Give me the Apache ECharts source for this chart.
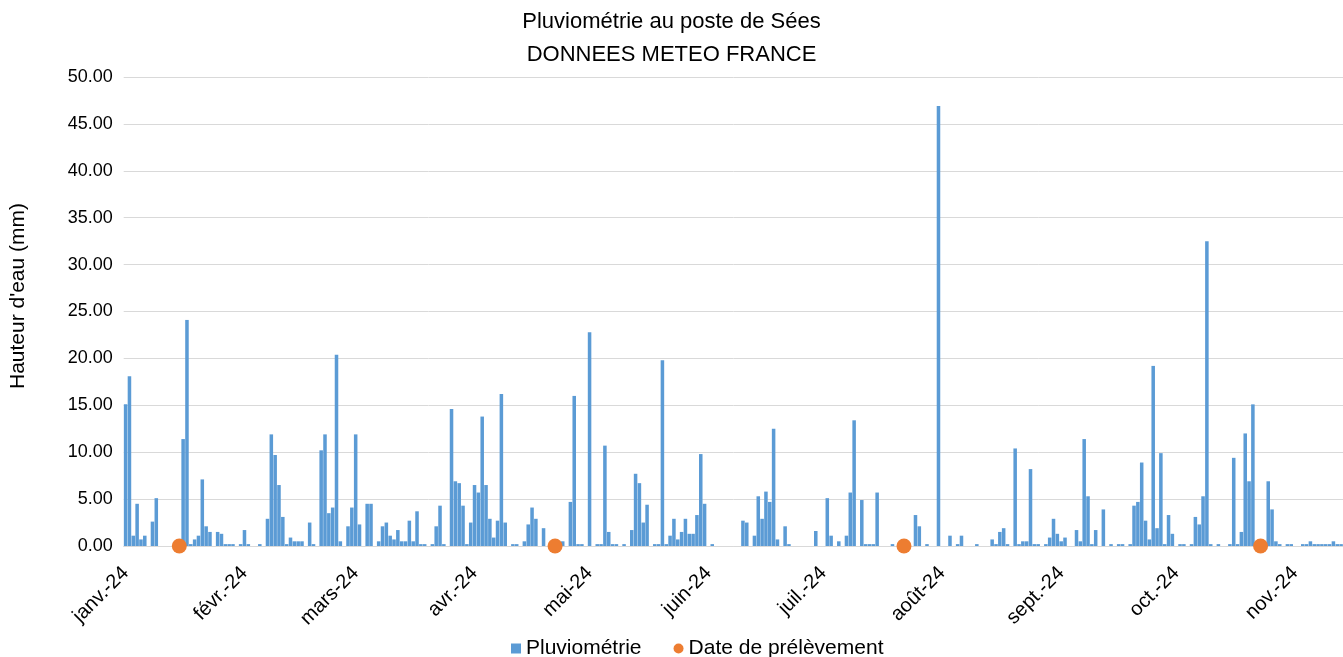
<!DOCTYPE html>
<html><head><meta charset="utf-8">
<script src="https://cdn.jsdelivr.net/npm/echarts@6/dist/echarts.min.js"></script>
<style>html,body{margin:0;padding:0;background:#fff}#c{width:1343px;height:657px}</style>
</head><body><div id="c"></div>
<script>
// Daily rainfall (mm), 2024
const rainJan = [15.1,18.1,1.1,4.5,0.7,1.1,0,2.6,5.1,0,0,0,0,0,0,11.4,24.1,0.2,0.7,1.1,7.1,2.1,1.5,0,1.5,1.3,0.2,0.2,0.2,0,0.2];
const rainFeb = [1.7,0.2,0,0,0.2,0,2.9,11.9,9.7,6.5,3.1,0.2,0.9,0.5,0.5,0.5,0,2.5,0.2,0,10.2,11.9,3.5,4.1,20.4,0.5,0,2.1,4.1];
const rainMar = [11.9,2.3,0,4.5,4.5,0,0.5,2.1,2.5,1.1,0.7,1.7,0.5,0.5,2.7,0.5,3.7,0.2,0.2,0,0.2,2.1,4.3,0.2,0,14.6,6.9,6.7,4.3,0.2,2.5];
const rainApr = [6.5,5.7,13.8,6.5,2.9,0.9,2.7,16.2,2.5,0,0.2,0.2,0,0.5,2.3,4.1,2.9,0,1.9,0,0,0,0,0.5,0,4.7,16.0,0.2,0.2,0];
const rainMay = [22.8,0,0.2,0.2,10.7,1.5,0.2,0.2,0,0.2,0,1.7,7.7,6.7,2.5,4.4,0,0.2,0.2,19.8,0.2,1.1,2.9,0.7,1.5,2.9,1.3,1.3,3.3,9.8,4.5];
const rainJun = [0,0.2,0,0,0,0,0,0,0,2.7,2.5,0,1.1,5.3,2.9,5.8,4.7,12.5,0.7,0,2.1,0.2,0,0,0,0,0,0,1.6,0];
const rainJul = [0,5.1,1.1,0,0.5,0,1.1,5.7,13.4,0,4.9,0.2,0.2,0.2,5.7,0,0,0,0.2,0,0,0,0,0,3.3,2.1,0,0.2,0,0,46.9];
const rainAug = [0,0,1.1,0,0.2,1.1,0,0,0,0.2,0,0,0,0.7,0.2,1.5,1.9,0.2,0,10.4,0.2,0.5,0.5,8.2,0.2,0.2,0,0.2,0.9,2.9,1.3];
const rainSep = [0.5,0.9,0,0,1.7,0.5,11.4,5.3,0.2,1.7,0,3.9,0,0.2,0,0.2,0.2,0,0.2,4.3,4.7,8.9,2.7,0.7,19.2,1.9,9.9,0.2,3.3,1.3];
const rainOct = [0,0.2,0.2,0,0.2,3.1,2.3,5.3,32.5,0.2,0,0.2,0,0,0.2,9.4,0.2,1.5,12.0,6.9,15.1,0,0,0,6.9,3.9,0.5,0.2,0,0.2,0.2];
const rainNov = [0,0,0.2,0.2,0.5,0.2,0.2,0.2,0.2,0.2,0.5,0.2,0.2];

const monthLabels = ['janv.-24','févr.-24','mars-24','avr.-24','mai-24','juin-24','juil.-24','août-24','sept.-24','oct.-24','nov.-24','déc.-24'];
const sampleDates = ['2024-01-15','2024-04-22','2024-07-22','2024-10-23'];
const sampleValues = [0,0,0,0];

const monthly = [rainJan,rainFeb,rainMar,rainApr,rainMay,rainJun,rainJul,rainAug,rainSep,rainOct,rainNov];
const categories = [];
const rain = [];
monthly.forEach((arr, mi) => {
  arr.forEach((v, di) => {
    categories.push('2024-' + String(mi+1).padStart(2,'0') + '-' + String(di+1).padStart(2,'0'));
    rain.push(v);
  });
});
const scatterData = sampleDates.map((d,i) => [d, sampleValues[i]]);

const FONT = 'Liberation Sans, Arial, sans-serif';
const dayW = 3.841;
const chart = echarts.init(document.getElementById('c'));
const isMonthStart = (idx, val) => val.slice(8) === '01';
chart.setOption({
  animation: false,
  backgroundColor: '#fff',
  textStyle: { fontFamily: FONT },
  title: {
    text: 'Pluviométrie au poste de Sées\nDONNEES METEO FRANCE',
    left: 'center', top: 0,
    textStyle: { fontFamily: FONT, fontSize: 22, fontWeight: 'normal', color: '#000', lineHeight: 33 }
  },
  legend: {
    left: 506, bottom: -7,
    itemWidth: 10, itemHeight: 10, itemGap: 32,
    textStyle: { fontFamily: FONT, fontSize: 21, color: '#000' },
    data: [{ name: 'Pluviométrie', icon: 'rect' }, { name: 'Date de prélèvement', icon: 'circle' }]
  },
  graphic: [{
    type: 'text', x: 18, y: 296, rotation: Math.PI / 2,
    style: { text: "Hauteur d'eau (mm)", fontFamily: FONT, fontSize: 21, fill: '#000',
             textAlign: 'center', textVerticalAlign: 'middle' }
  }],
  grid: { left: 123.7, top: 77, width: categories.length * dayW, height: 469 },
  xAxis: {
    type: 'category',
    data: categories,
    boundaryGap: true,
    axisLine: { lineStyle: { color: '#d9d9d9', width: 1 } },
    axisTick: { interval: isMonthStart, length: 6, lineStyle: { color: '#d9d9d9' } },
    axisLabel: {
      interval: isMonthStart, rotate: 45, margin: 24,
      fontFamily: FONT, fontSize: 20, color: '#000',
      formatter: v => monthLabels[parseInt(v.slice(5,7),10)-1]
    },
    splitLine: { show: false }
  },
  yAxis: {
    type: 'value', min: 0, max: 50, interval: 5,
    axisLine: { show: false }, axisTick: { show: false },
    axisLabel: { fontFamily: FONT, fontSize: 18, color: '#000', margin: 11, formatter: v => v.toFixed(2) },
    splitLine: { lineStyle: { color: '#d9d9d9', width: 1 } }
  },
  series: [
    { name: 'Pluviométrie', type: 'bar', data: rain, barCategoryGap: '8%',
      itemStyle: { color: '#5b9bd5' }, z: 2 },
    { name: 'Date de prélèvement', type: 'scatter', data: scatterData, symbol: 'circle', symbolSize: 15,
      itemStyle: { color: '#ed7d31', opacity: 1 }, clip: false, z: 5 }
  ]
});
</script></body></html>
